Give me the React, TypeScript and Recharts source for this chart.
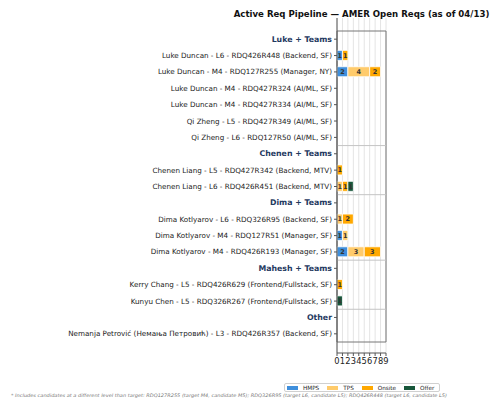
import React from 'react';
import {
  BarChart,
  Bar,
  XAxis,
  YAxis,
  CartesianGrid,
  ReferenceLine,
  ReferenceArea,
  LabelList,
  Legend,
} from 'recharts';

const categories = [
  'Luke + Teams',
  'Luke Duncan - L6 - RDQ426R448 (Backend, SF)',
  'Luke Duncan - M4 - RDQ127R255 (Manager, NY)',
  'Luke Duncan - M4 - RDQ427R324 (AI/ML, SF)',
  'Luke Duncan - M4 - RDQ427R334 (AI/ML, SF)',
  'Qi Zheng - L5 - RDQ427R349 (AI/ML, SF)',
  'Qi Zheng - L6 - RDQ127R50 (AI/ML, SF)',
  'Chenen + Teams',
  'Chenen Liang - L5 - RDQ427R342 (Backend, MTV)',
  'Chenen Liang - L6 - RDQ426R451 (Backend, MTV)',
  'Dima + Teams',
  'Dima Kotlyarov - L6 - RDQ326R95 (Backend, SF)',
  'Dima Kotlyarov - M4 - RDQ127R51 (Manager, SF)',
  'Dima Kotlyarov - M4 - RDQ426R193 (Manager, SF)',
  'Mahesh + Teams',
  'Kerry Chang - L5 - RDQ426R629 (Frontend/Fullstack, SF)',
  'Kunyu Chen - L5 - RDQ326R267 (Frontend/Fullstack, SF)',
  'Other',
  'Nemanja Petrović (Немања Петровић) - L3 - RDQ426R357 (Backend, SF)',
];

const headerRows = ['Luke + Teams', 'Chenen + Teams', 'Dima + Teams', 'Mahesh + Teams', 'Other'];

// last row of each group (separator drawn below it)
const groupEndRows = [
  'Qi Zheng - L6 - RDQ127R50 (AI/ML, SF)',
  'Chenen Liang - L6 - RDQ426R451 (Backend, MTV)',
  'Dima Kotlyarov - M4 - RDQ426R193 (Manager, SF)',
  'Kunyu Chen - L5 - RDQ326R267 (Frontend/Fullstack, SF)',
];

const N = null;
const hmps = [N, 1, 2, N, N, N, N, N, N, N, N, N, 1, 2, N, N, N, N, N];
const tps = [N, N, 4, N, N, N, N, N, N, 1, N, 1, 1, 3, N, N, N, N, N];
const onsite = [N, 1, 2, N, N, N, N, N, 1, 1, N, 2, N, 3, N, 1, N, N, N];
const offer = [N, N, N, N, N, N, N, N, N, 1, N, N, N, N, N, N, 1, N, N];

const xTicks = [0, 1, 2, 3, 4, 5, 6, 7, 8, 9];

const seriesNames = ['HMPS', 'TPS', 'Onsite', 'Offer'];
const seriesColors = ['#3f8fdc', '#ffcb6b', '#ffa800', '#17563a'];

const title = 'Active Req Pipeline — AMER Open Reqs (as of 04/13)';
const footnote =
  '* Includes candidates at a different level than target: RDQ127R255 (target M4, candidate M5); RDQ326R95 (target L6, candidate L5); RDQ426R448 (target L6, candidate L5)';

const data = categories.map((label, i) => ({
  label,
  HMPS: hmps[i],
  TPS: tps[i],
  Onsite: onsite[i],
  Offer: offer[i],
}));

const FONT = '"DejaVu Sans", sans-serif';

const YTick = (props: any) => {
  const { x, y, payload } = props;
  const isHeader = headerRows.includes(payload.value);
  return (
    <text
      x={x}
      y={y}
      textAnchor="end"
      dominantBaseline="central"
      fontSize={isHeader ? 7.8 : 7.2}
      fontWeight={isHeader ? 'bold' : 'normal'}
      fill={isHeader ? '#1f3a5f' : '#222'}
      fontFamily={FONT}
    >
      {payload.value}
    </text>
  );
};

const LegendContent = (props: any) => {
  const payload = [...(props.payload || [])].sort(
    (a: any, b: any) => seriesNames.indexOf(a.value) - seriesNames.indexOf(b.value)
  );
  return (
    <div
      style={{
        display: 'flex',
        alignItems: 'center',
        border: '1px solid #d0d0d0',
        borderRadius: 2,
        background: '#fff',
        height: 9,
        boxSizing: 'border-box',
        padding: '0 2px',
        fontFamily: FONT,
        fontSize: 5.7,
        color: '#222',
      }}
    >
      {payload.map((p: any, i: number) => (
        <div key={i} style={{ display: 'flex', alignItems: 'center', marginRight: i < 3 ? 8 : 0 }}>
          <span style={{ display: 'inline-block', width: 11, height: 4, background: p.color, marginRight: 5 }} />
          <span>{p.value}</span>
        </div>
      ))}
    </div>
  );
};

const fmt = (v: any) => (v ? v : '');

export default function App() {
  return (
    <div style={{ position: 'absolute', left: 0, top: 0, width: 500, height: 408, background: '#fff' }}>
      <BarChart
        width={500}
        height={408}
        data={data}
        layout="vertical"
        margin={{ top: 18, right: 114, bottom: 25, left: 0 }}
        barSize={10}
      >
        <CartesianGrid horizontal={false} vertical stroke="#e4e4e4" />
        <XAxis
          type="number"
          domain={[0, 9]}
          ticks={xTicks}
          interval={0}
          height={30}
          tickSize={3}
          tickMargin={2}
          tick={{ fontSize: 8.3, fill: '#222', fontFamily: FONT }}
          axisLine={{ stroke: '#555' }}
          tickLine={{ stroke: '#555' }}
          allowDecimals={false}
        />
        <YAxis
          type="category"
          dataKey="label"
          width={337}
          interval={0}
          tickSize={3}
          tickMargin={2}
          padding={{ top: 13, bottom: 11 }}
          tick={<YTick />}
          axisLine={{ stroke: '#555' }}
          tickLine={{ stroke: '#555' }}
        />
        <ReferenceArea x1={0} x2={9} fill="none" stroke="#777" strokeWidth={1} ifOverflow="visible" />
        {groupEndRows.map((r) => (
          <ReferenceLine key={r} y={r} position="end" stroke="#c4c4c4" strokeWidth={1} />
        ))}
        {seriesNames.map((name, i) => (
          <Bar
            key={name}
            dataKey={name}
            name={name}
            stackId="a"
            fill={seriesColors[i]}
            stroke="#fff"
            strokeWidth={0.8}
            isAnimationActive={false}
          >
            <LabelList
              dataKey={name}
              position="center"
              formatter={fmt}
              style={{ fontSize: 6.5, fontWeight: 'bold', fill: '#333', fontFamily: FONT }}
            />
          </Bar>
        ))}
        <Legend
          layout="horizontal"
          verticalAlign="middle"
          align="center"
          itemSorter={null as any}
          content={<LegendContent />}
          wrapperStyle={{ left: 284, top: 383, width: 156, height: 9 }}
        />
      </BarChart>
      <svg
        width={500}
        height={408}
        style={{ position: 'absolute', left: 0, top: 0, pointerEvents: 'none' }}
      >
        <text x={361.5} y={17} textAnchor="middle" fontSize={8.6} fontWeight="bold" fill="#111" fontFamily={FONT}>
          {title}
        </text>
        <text
          x={11}
          y={397}
          fontSize={4.7}
          fontStyle="italic"
          fill="#777"
          fontFamily={FONT}
          textLength={436}
          lengthAdjust="spacingAndGlyphs"
        >
          {footnote}
        </text>
      </svg>
    </div>
  );
}
